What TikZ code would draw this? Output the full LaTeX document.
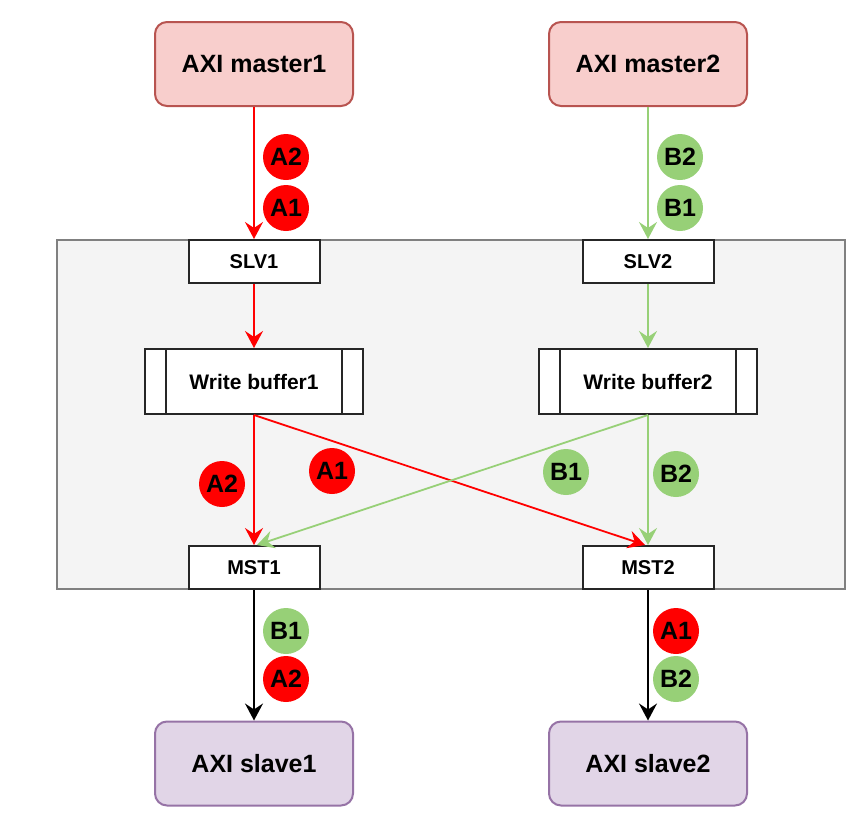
\documentclass[tikz,border=0pt]{standalone}
\usepackage{fontspec}
\setmainfont{Liberation Sans}
\usetikzlibrary{arrows.meta}

\definecolor{mfill}{HTML}{F8CECC}
\definecolor{mline}{HTML}{B85450}
\definecolor{sfill}{HTML}{E1D5E7}
\definecolor{sline}{HTML}{9673A6}
\definecolor{bgreen}{HTML}{97D077}
\definecolor{cfill}{HTML}{F4F4F4}
\definecolor{cline}{HTML}{808080}

\tikzset{
  master/.style={draw=mline, fill=mfill, line width=1pt, rounded corners=6pt,
    minimum width=99pt, minimum height=42pt, font=\fontsize{12.5}{14}\selectfont\bfseries},
  slave/.style={master, draw=sline, fill=sfill},
  port/.style={draw=black!85, fill=white, line width=1pt,
    minimum width=65.5pt, minimum height=21.5pt, font=\fontsize{10}{12}\selectfont\bfseries},
  buffer/.style={port, minimum width=109pt, minimum height=32.5pt, font=\fontsize{10.5}{12}\selectfont\bfseries},
  token/.style={circle, inner sep=0pt, minimum size=23pt, font=\fontsize{12.5}{14}\selectfont\bfseries},
  atok/.style={token, fill=red},
  btok/.style={token, fill=bgreen},
  flow/.style={line width=0.9pt, -{Stealth[length=8.5pt, width=9pt, inset=3pt]}},
}

\begin{document}
\begin{tikzpicture}[x=0.5pt, y=-0.5pt]
\useasboundingbox (0,0) rectangle (863,825);

% Interconnect
\node[draw=cline, fill=cfill, line width=1pt, minimum width=394pt, minimum height=174.5pt] (xbar) at (451,414.5) {};

% Masters and slaves
\node[master] (m1) at (254,64) {AXI master1};
\node[master] (m2) at (648,64) {AXI master2};
\node[slave] (s1) at (254,763.5) {AXI slave1};
\node[slave] (s2) at (648,763.5) {AXI slave2};

% Ports
\node[port] (slv1) at (254,261.5) {SLV1};
\node[port] (slv2) at (648,261.5) {SLV2};
\node[port] (mst1) at (254,567.5) {MST1};
\node[port] (mst2) at (648,567.5) {MST2};

% Write buffers
\foreach \n/\x in {wb1/254, wb2/648} {
  \node[buffer] (\n) at (\x,381.5) {};
  \draw[black!85, line width=1pt] ([xshift=11pt]\n.north west) -- ([xshift=11pt]\n.south west);
  \draw[black!85, line width=1pt] ([xshift=-11pt]\n.north east) -- ([xshift=-11pt]\n.south east);
}
\node[font=\fontsize{10.5}{12}\selectfont\bfseries] at (wb1) {Write buffer1};
\node[font=\fontsize{10.5}{12}\selectfont\bfseries] at (wb2) {Write buffer2};

% Flows
\draw[flow, red] (m1) -- (slv1);
\draw[flow, red] (slv1) -- (wb1);
\draw[flow, red] (wb1.south) -- (mst1.north);
\draw[flow, red] (wb1.south) -- ([xshift=-1.5pt]mst2.north);
\draw[flow, bgreen] (m2) -- (slv2);
\draw[flow, bgreen] (slv2) -- (wb2);
\draw[flow, bgreen] (wb2.south) -- (mst2.north);
\draw[flow, bgreen] (wb2.south) -- ([xshift=1.5pt]mst1.north);
\draw[flow, black] (mst1) -- (s1);
\draw[flow, black] (mst2) -- (s2);

% Transactions
\node[atok] (ta2) at (286,157) {A2};
\node[atok] (ta1) at (286,208) {A1};
\node[btok] (tb2) at (680,157) {B2};
\node[btok] (tb1) at (680,208) {B1};
\node[atok] (xa2) at (222,484) {A2};
\node[atok] (xa1) at (332,471) {A1};
\node[btok] (xb1) at (566,472) {B1};
\node[btok] (xb2) at (676,474) {B2};
\node[btok] (ob1) at (286,631) {B1};
\node[atok] (oa2) at (286,679) {A2};
\node[atok] (oa1) at (676,631) {A1};
\node[btok] (ob2) at (676,679) {B2};

\end{tikzpicture}
\end{document}
